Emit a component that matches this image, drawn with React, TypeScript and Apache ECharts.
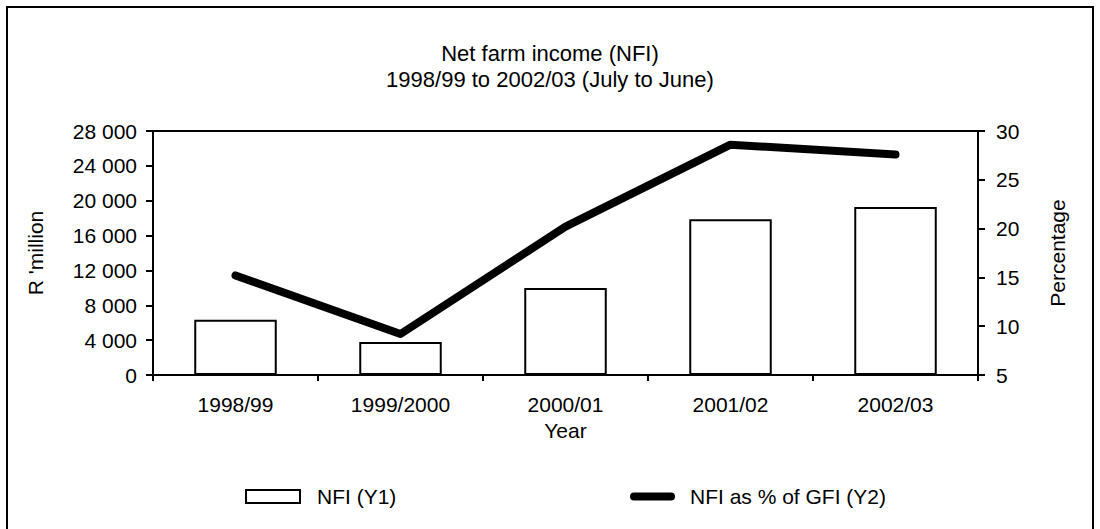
import React, { useEffect, useRef } from "react";
import * as echarts from "echarts";

// Marketing years (July to June)
const years = ["1998/99", "1999/2000", "2000/01", "2001/02", "2002/03"];
// Net farm income, R million
const nfiValues = [6350, 3790, 9980, 17860, 19280];
// Net farm income as a percentage of gross farm income
const nfiShareOfGfi = [15.2, 9.2, 20.2, 28.6, 27.6];

const FONT = "'Liberation Sans', Arial, Helvetica, sans-serif";
const BLACK = "#000000";

const formatThousands = (v: number) =>
  String(v).replace(/\B(?=(\d{3})+(?!\d))/g, " ");

export default function App() {
  const ref = useRef<HTMLDivElement>(null);

  useEffect(() => {
    if (!ref.current) return;
    const chart = echarts.init(ref.current, undefined, { renderer: "svg" });

    const textBase = { color: BLACK, fontFamily: FONT, fontSize: 21 };

    chart.setOption({
      animation: false,
      backgroundColor: "#ffffff",
      title: {
        text: "Net farm income (NFI)\n1998/99 to 2002/03 (July to June)",
        left: "center",
        top: 40,
        padding: 0,
        textStyle: {
          ...textBase,
          fontSize: 22,
          fontWeight: "normal",
          lineHeight: 26,
        },
      },
      grid: {
        left: 153,
        right: 122,
        top: 131,
        bottom: 154,
        show: true,
        borderColor: BLACK,
        borderWidth: 2,
        backgroundColor: "transparent",
      },
      legend: [
        {
          left: 245,
          top: 486,
          padding: 0,
          itemWidth: 54,
          itemHeight: 13,
          textStyle: { ...textBase, padding: [0, 0, 0, 12] },
          data: [
            {
              name: "NFI (Y1)",
              icon: "rect",
              itemStyle: { color: "#ffffff", borderColor: BLACK, borderWidth: 2 },
            },
          ],
        },
        {
          left: 630,
          top: 486,
          padding: 0,
          itemWidth: 45,
          itemHeight: 8,
          textStyle: { ...textBase, padding: [0, 0, 0, 10] },
          data: [
            {
              name: "NFI as % of GFI (Y2)",
              icon: "path://M4,0 H41 A4,4 0 0 1 41,8 H4 A4,4 0 0 1 4,0 Z",
              itemStyle: { color: BLACK, borderWidth: 0 },
            },
          ],
        },
      ],
      xAxis: {
        type: "category",
        data: years,
        boundaryGap: true,
        name: "Year",
        nameLocation: "middle",
        nameGap: 45,
        nameTextStyle: { ...textBase },
        axisLine: { show: true, lineStyle: { color: BLACK, width: 2 } },
        axisTick: {
          show: true,
          alignWithLabel: false,
          inside: false,
          length: 6,
          lineStyle: { color: BLACK, width: 2 },
        },
        axisLabel: { ...textBase, margin: 19, interval: 0 },
        splitLine: { show: false },
      },
      yAxis: [
        {
          type: "value",
          position: "left",
          min: 0,
          max: 28000,
          interval: 4000,
          name: "R 'million",
          nameLocation: "middle",
          nameRotate: 90,
          nameGap: 107,
          nameTextStyle: { ...textBase },
          axisLine: { show: true, lineStyle: { color: BLACK, width: 2 } },
          axisTick: {
            show: true,
            inside: false,
            length: 7,
            lineStyle: { color: BLACK, width: 2 },
          },
          axisLabel: {
            ...textBase,
            margin: 16,
            formatter: (v: number) => formatThousands(v),
          },
          splitLine: { show: false },
        },
        {
          type: "value",
          position: "right",
          min: 5,
          max: 30,
          interval: 5,
          name: "Percentage",
          nameLocation: "middle",
          nameRotate: 90,
          nameGap: 69,
          nameTextStyle: { ...textBase },
          axisLine: { show: true, lineStyle: { color: BLACK, width: 2 } },
          axisTick: {
            show: true,
            inside: false,
            length: 7,
            lineStyle: { color: BLACK, width: 2 },
          },
          axisLabel: { ...textBase, margin: 18 },
          splitLine: { show: false },
        },
      ],
      series: [
        {
          name: "NFI (Y1)",
          type: "bar",
          yAxisIndex: 0,
          data: nfiValues,
          barWidth: "50%",
          itemStyle: { color: "#ffffff", borderColor: BLACK, borderWidth: 2 },
          z: 2,
        },
        {
          name: "NFI as % of GFI (Y2)",
          type: "line",
          yAxisIndex: 1,
          data: nfiShareOfGfi,
          showSymbol: false,
          symbol: "none",
          itemStyle: { color: BLACK },
          lineStyle: { color: BLACK, width: 8, cap: "round", join: "round" },
          z: 3,
        },
      ],
      graphic: [
        {
          type: "rect",
          silent: true,
          shape: { x: 7, y: 7, width: 1086, height: 540 },
          style: { fill: "none", stroke: BLACK, lineWidth: 2 },
        },
      ],
    });

    return () => chart.dispose();
  }, []);

  return (
    <div
      ref={ref}
      style={{ position: "fixed", left: 0, top: 0, width: 1100, height: 529 }}
    />
  );
}
